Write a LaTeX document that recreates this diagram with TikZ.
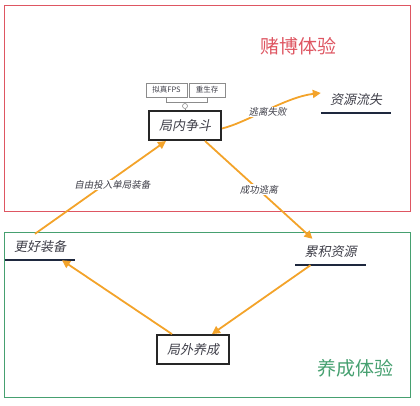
\documentclass[tikz,border=0pt]{standalone}
\usepackage{fontspec}
\usepackage{tikz}
\usetikzlibrary{arrows.meta,positioning}
\newfontfamily\cjk{Noto Sans CJK SC}
\newfontfamily\cjkit[FakeSlant=0.2]{Noto Sans CJK SC}
\definecolor{frameRed}{RGB}{222,86,98}
\definecolor{frameGreen}{RGB}{70,160,112}
\definecolor{flow}{RGB}{243,163,42}
\definecolor{ink}{RGB}{62,62,72}
\definecolor{navy}{RGB}{30,40,62}

\begin{document}
\begin{tikzpicture}[x=1pt, y=-1pt,
  stage/.style={draw=black!85, line width=2pt, minimum width=72pt, minimum height=29pt, inner sep=0pt,
    font=\cjkit\fontsize{13}{13}\selectfont, text=ink},
  topic/.style={minimum width=70pt, minimum height=26pt, inner sep=0pt,
    font=\cjkit\fontsize{13}{13}\selectfont, text=ink},
  uline/.style={draw=navy, line width=1.8pt},
  tag/.style={draw=black!45, line width=0.6pt, minimum height=14pt, inner sep=1.5pt,
    font=\cjk\fontsize{7.5}{7.5}\selectfont, text=ink},
  tagline/.style={draw=black!45, line width=0.6pt},
  flowarrow/.style={draw=flow, line width=1.8pt, -{Triangle[length=8pt,width=8pt]}},
  edgelabel/.style={fill=white, inner sep=1pt, font=\cjkit\fontsize{9.5}{9.5}\selectfont, text=ink},
  area/.style={line width=1pt},
  title/.style={font=\cjk\fontsize{19}{19}\selectfont}]
\useasboundingbox (0,0) rectangle (420,405);

% the two experience areas
\draw[area, frameRed] (4,5) rectangle (410,211);
\draw[area, frameGreen] (4,232) rectangle (410,397);
\node[title, text=frameRed] (gamble) at (298,46) {赌博体验};
\node[title, text=frameGreen] (growth) at (355,368) {养成体验};

% stages
\node[stage] (fight) at (185,125.5) {局内争斗};
\node[stage, line width=1.8pt] (home) at (193,349.5) {局外养成};
\node[topic] (loss) at (356,100) {资源流失};
\node[topic] (gear) at (40,247) {更好装备};
\node[topic] (stock) at (330.5,252) {累积资源};
\draw[uline] (loss.south west) -- (loss.south east);
\draw[uline] (gear.south west) -- (gear.south east);
\draw[uline] (stock.south west) -- (stock.south east);

% tags
\node[tag, minimum width=41pt] (fps) at (166.5,90) {拟真FPS};
\node[tag, minimum width=36pt] (survive) at (207,90) {重生存};
\node[circle, draw=black!45, line width=0.6pt, minimum size=5pt, inner sep=0pt] (knot) at (185,106) {};
\draw[tagline] (fps.south) -- ++(0,5) coordinate (bar) -| (survive.south);
\draw[tagline] (bar -| knot) -- (knot.north);
\draw[tagline] (knot.south) -- (fight.north);

% loop
\draw[flowarrow] ([yshift=-3pt]fight.east) .. controls +(25,-6) and +(-35,4) .. ([yshift=7pt]loss.west)
  node[edgelabel, pos=0.5, yshift=-2pt] {逃离失败};
\draw[flowarrow] ([xshift=20pt]fight.south) -- ([xshift=-18pt]stock.north)
  node[edgelabel, midway] {成功逃离};
\draw[flowarrow] ([xshift=-20pt]stock.south) -- ([xshift=19pt]home.north);
\draw[flowarrow] ([xshift=-21pt]home.north) -- ([xshift=22pt]gear.south);
\draw[flowarrow] ([xshift=-5pt]gear.north) -- ([xshift=-19pt]fight.south)
  node[edgelabel, pos=0.59, yshift=-6pt] {自由投入单局装备};
\end{tikzpicture}
\end{document}
